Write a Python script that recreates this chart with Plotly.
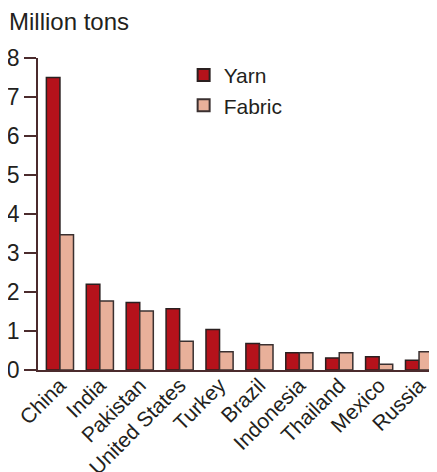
import plotly.graph_objects as go

countries = ["China", "India", "Pakistan", "United States", "Turkey", "Brazil",
             "Indonesia", "Thailand", "Mexico", "Russia"]
yarn = [7.5, 2.2, 1.73, 1.57, 1.04, 0.68, 0.44, 0.31, 0.34, 0.25]
fabric = [3.47, 1.77, 1.51, 0.74, 0.47, 0.65, 0.44, 0.44, 0.15, 0.47]
y_ticks = [0, 1, 2, 3, 4, 5, 6, 7, 8]

FONT = "Liberation Sans, Arial, Helvetica, sans-serif"
AXIS_COLOR = "#4b2b2d"
TEXT = "#231f20"

fig = go.Figure()
fig.add_trace(go.Bar(name="Yarn", x=countries, y=yarn,
                     marker=dict(color="#b5121b", line=dict(color="#2a2020", width=1.5))))
fig.add_trace(go.Bar(name="Fabric", x=countries, y=fabric,
                     marker=dict(color="#e8b09a", line=dict(color="#3a3030", width=1.5))))

# page has an 8px body margin, so the figure is drawn 8px smaller and offset
fig.update_layout(
    width=429, height=464,
    margin=dict(l=30, r=0, t=50, b=102),
    paper_bgcolor="white", plot_bgcolor="white",
    barmode="group", bargap=0.32, bargroupgap=0,
    font=dict(family=FONT, color=TEXT, size=21),
    showlegend=True,
    legend=dict(x=0.365, y=1.01, xanchor="left", yanchor="top",
                font=dict(size=21, color=TEXT, family=FONT),
                bgcolor="rgba(0,0,0,0)", tracegroupgap=0, itemsizing="constant"),
    xaxis=dict(range=[-0.55, 9.45], showgrid=False, zeroline=False, automargin=False,
               showline=True, linecolor=AXIS_COLOR, linewidth=1.5,
               ticks="", tickangle=-45, ticklabelstandoff=-7,
               tickfont=dict(size=21, color=TEXT, family=FONT)),
    yaxis=dict(range=[0, 8], tickvals=y_ticks, showgrid=False, zeroline=False, automargin=False,
               showline=True, linecolor=AXIS_COLOR, linewidth=1.5,
               ticks="outside", ticklen=12, tickwidth=1.5, tickcolor=AXIS_COLOR,
               tickfont=dict(size=23, color=TEXT, family=FONT)),
    annotations=[dict(text="Million tons", xref="paper", yref="paper",
                      x=-31/399, y=1 + 36/312, xanchor="left", yanchor="middle",
                      showarrow=False, font=dict(size=24, color=TEXT, family=FONT))],
)

fig.write_html("out.html")
